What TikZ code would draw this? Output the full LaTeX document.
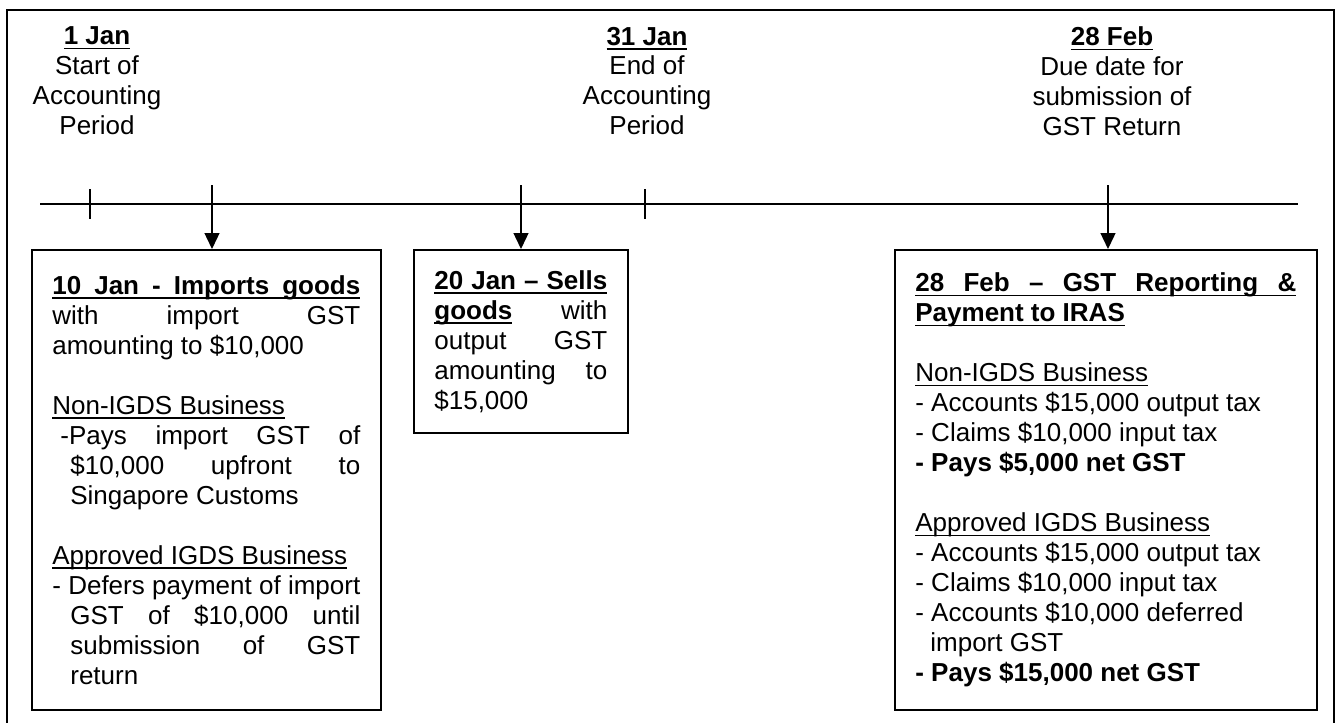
\documentclass[tikz,border=0pt]{standalone}
\usepackage{fontspec}
\setmainfont{Liberation Sans}
\usetikzlibrary{positioning}
\usetikzlibrary{arrows.meta}

% underline at a fixed depth below the baseline
\newsavebox{\undlbox}
\newcommand{\undl}[1]{\leavevmode\sbox{\undlbox}{#1}\rlap{\rule[-2.7pt]{\wd\undlbox}{1pt}}\usebox{\undlbox}}
% underlined title line stretched over the whole width
\newcommand{\undlfull}[1]{\undl{\makebox[\hsize][s]{\textbf{#1}}}}
\newcommand{\skipline}{\par\vspace{\baselineskip}}

\tikzset{
    datehead/.style={align=center, inner sep=0pt, anchor=north,
        font=\fontsize{14.8pt}{17.07pt}\selectfont},
    eventbox/.style={draw, line width=1pt, anchor=north west, align=justify,
        inner xsep=0.41cm, inner ysep=0pt,
        font=\fontsize{14.8pt}{17.07pt}\selectfont,
        execute at begin node={\parindent=0pt\parskip=0pt\tolerance=10000\hbadness=10000\hyphenpenalty=10000\exhyphenpenalty=10000}},
    eventarrow/.style={line width=0.8pt, -{Triangle[width=0.3cm,length=0.32cm]}},
}

\begin{document}
\begin{tikzpicture}[x=0.02cm, y=-0.02cm]
    % Parameters (pixel grid of the page)
    \pgfmathsetmacro{\timey}{204}
    \pgfmathsetmacro{\tickh}{15}
    \pgfmathsetmacro{\headtop}{26.5}
    \pgfmathsetmacro{\boxtop}{249}

    \useasboundingbox (0,0) rectangle (1339,723);
    \draw[line width=1.2pt] (7,10) rectangle (1334,740);

    % Dates above the time line
    \node[datehead] (jan1) at (97,\headtop) {\textbf{\undl{1 Jan}}\\Start of\\Accounting\\Period};
    \node[datehead] (jan31) at (647,\headtop) {\textbf{\undl{31 Jan}}\\End of\\Accounting\\Period};
    \node[datehead] (feb28) at (1112,\headtop) {\textbf{\undl{28 Feb}}\\Due date for\\submission of\\GST Return};

    % Time line and ticks
    \coordinate (tstart) at (40,\timey);
    \coordinate (tend) at (1298,\timey);
    \draw[line width=1.1pt] (tstart) -- (tend);
    \draw[line width=0.8pt] (90,\timey-\tickh) -- (90,\timey+\tickh);
    \draw[line width=0.8pt] (645,\timey-\tickh) -- (645,\timey+\tickh);

    % Event boxes
    \node[eventbox, text width=6.16cm, minimum height=9.2cm] (imports) at (31,\boxtop) {%
        \undlfull{10 Jan - Imports goods}\par
        with import GST\linebreak amounting to \$10,000\par
        \skipline
        \undl{Non-IGDS Business}\par
        \hangindent=0.36cm\hangafter=1 \hspace*{0.16cm}-Pays import GST of\linebreak \$10,000 upfront to\linebreak Singapore Customs\par
        \skipline
        \undl{Approved IGDS Business}\par
        \hangindent=0.36cm\hangafter=1 - Defers payment of import\linebreak GST of \$10,000 until\linebreak submission of GST\linebreak return\par};
    \node[eventbox, text width=3.46cm, minimum height=3.66cm] (sells) at (413,\boxtop) {%
        \undlfull{20 Jan – Sells}\par
        \textbf{\undl{goods}} with\linebreak output GST\linebreak amounting to\linebreak \$15,000\par};
    \node[eventbox, text width=7.62cm, minimum height=9.2cm] (report) at (894,\boxtop) {%
        \undlfull{28 Feb – GST Reporting \&}\par
        \textbf{\undl{Payment to IRAS}}\par
        \skipline
        \undl{Non-IGDS Business}\\
        - Accounts \$15,000 output tax\\
        - Claims \$10,000 input tax\\
        \textbf{- Pays \$5,000 net GST}\par
        \skipline
        \undl{Approved IGDS Business}\\
        - Accounts \$15,000 output tax\\
        - Claims \$10,000 input tax\par
        \hangindent=0.3cm\hangafter=1 - Accounts \$10,000 deferred\\import GST\par
        \textbf{- Pays \$15,000 net GST}\par};

    % Arrows from the time line
    \coordinate (ev10) at (212,185);
    \coordinate (ev20) at (521,185);
    \coordinate (ev28) at (1108,185);
    \draw[eventarrow] (ev10) -- (ev10 |- imports.north);
    \draw[eventarrow] (ev20) -- (ev20 |- sells.north);
    \draw[eventarrow] (ev28) -- (ev28 |- report.north);
\end{tikzpicture}
\end{document}
